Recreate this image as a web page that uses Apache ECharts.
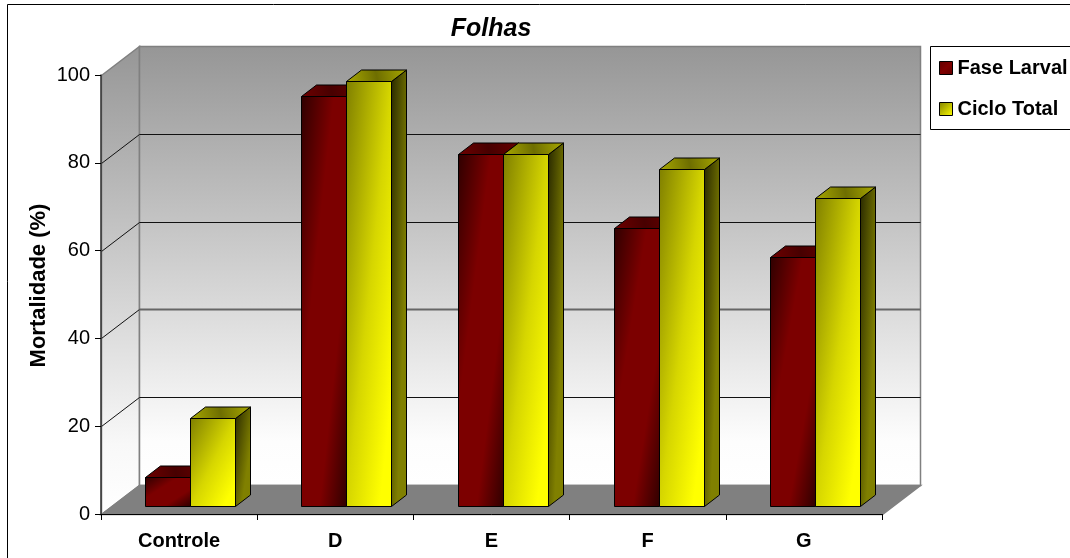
<!DOCTYPE html>
<html>
<head>
<meta charset="utf-8">
<style>html,body{margin:0;padding:0;background:#fff}#c{width:1070px;height:558px}</style>
<script src="https://cdn.jsdelivr.net/npm/echarts@6/dist/echarts.min.js"></script>
</head>
<body>
<div id="c"></div>
<script>
const categories = ['Controle', 'D', 'E', 'F', 'G'];
const faseLarval = [6.6, 93.3, 80, 63.3, 56.6];
const cicloTotal = [20, 96.6, 80, 76.6, 70];
const yTicks = [0, 20, 40, 60, 80, 100];

const FONT = '"Liberation Sans", Arial, sans-serif';
const G = echarts.graphic;
const WALL_DX = 38, WALL_DY = 29;     // floor depth
const BAR_DX = 11, BAR_DY = 8.5;      // bar position on the floor
const DEPTH_DX = 15, DEPTH_DY = 11.5; // bar depth
const BAR_FRAC = 0.288;

function diag(x, y, w, h, stops) {
  const k = 2 / (1 / (w * w) + 1 / (h * h));
  return new G.LinearGradient(x, y, x + k / w, y + k / h, stops, true);
}
const palettes = {
  red: {
    front: [[0, '#300000'], [0.36, '#7c0000'], [0.7, '#7c0000'], [1, '#300000']],
    top: [[0, '#6e0000'], [0.5, '#480000'], [1, '#660000']],
    side: [[0, '#200000'], [1, '#600000']]
  },
  yellow: {
    front: [[0, '#808000'], [0.5, '#d6d600'], [0.87, '#ffff00'], [1, '#ffff00']],
    top: [[0, '#a8a800'], [0.5, '#6e6e00'], [1, '#a8a800']],
    side: [[0, '#2a2a00'], [0.7, '#808000'], [1, '#808000']]
  }
};
const toStops = s => s.map(p => ({ offset: p[0], color: p[1] }));

function barRenderer(pal, dir) {
  return function (params, api) {
    const cat = api.value(0), val = api.value(1);
    const top = api.coord([cat, val]);
    const base = api.coord([cat, 0]);
    const w = Math.round(api.size([1, 0])[0] * BAR_FRAC);
    const cx = Math.round(top[0] + BAR_DX);
    const x0 = (dir < 0 ? cx - w : cx) + 0.5;
    const x1 = x0 + w;
    const yt = Math.round(top[1] - BAR_DY) + 0.5;
    const yb = Math.round(base[1] - BAR_DY) + 0.5;
    const h = Math.max(yb - yt, 1);
    const st = { stroke: '#000', lineWidth: 1, lineJoin: 'round' };
    const ddx = DEPTH_DX, ddy = DEPTH_DY;
    return {
      type: 'group',
      children: [
        { type: 'polygon',
          shape: { points: [[x1, yt], [x1 + ddx, yt - ddy], [x1 + ddx, yb - ddy], [x1, yb]] },
          style: Object.assign({ fill: diag(x1, yt - ddy, ddx, h + ddy, toStops(pal.side)) }, st) },
        { type: 'polygon',
          shape: { points: [[x0, yt], [x0 + ddx, yt - ddy], [x1 + ddx, yt - ddy], [x1, yt]] },
          style: Object.assign({ fill: new G.LinearGradient(x0, yt, x1 + ddx, yt - ddy, toStops(pal.top), true) }, st) },
        { type: 'rect',
          shape: { x: x0, y: yt, width: w, height: h },
          style: Object.assign({ fill: diag(x0, yt, w, h, toStops(pal.front)) }, st) }
      ]
    };
  };
}

function wallRenderer(params, api) {
  if (params.dataIndex !== 0) return null;
  const cs = params.coordSys;
  const l = cs.x, r = cs.x + cs.width;
  const yTop = Math.round(api.coord([0, yTicks[yTicks.length - 1]])[1]);
  const yBot = Math.round(api.coord([0, 0])[1]);
  const wallGrad = () => new G.LinearGradient(0, yTop - WALL_DY, 0, yBot - WALL_DY, [
    { offset: 0, color: '#969696' }, { offset: 0.9, color: '#fdfdfd' }, { offset: 1, color: '#ffffff' }
  ], true);
  const sideGrad = () => new G.LinearGradient(0, yTop - WALL_DY, 0, yBot, [
    { offset: 0, color: '#969696' }, { offset: 0.85, color: '#f8f8f8' }, { offset: 1, color: '#ffffff' }
  ], true);
  const bx0 = l + WALL_DX + 0.5, bx1 = r + WALL_DX + 0.5;
  const by0 = yTop - WALL_DY + 0.5, by1 = yBot - WALL_DY + 0.5;
  const fl = l + 0.5, fr = r + 0.5, fb = yBot + 0.5, ft = yTop + 0.5;
  const edge = { stroke: '#808080', lineWidth: 1.5 };
  const kids = [
    { type: 'polygon', shape: { points: [[fl, ft], [bx0, by0], [bx0, by1], [fl, fb]] },
      style: Object.assign({ fill: sideGrad() }, edge) },
    { type: 'polygon', shape: { points: [[bx0, by0], [bx1, by0], [bx1, by1], [bx0, by1]] },
      style: Object.assign({ fill: wallGrad() }, edge) },
    { type: 'polygon', shape: { points: [[fl, fb], [bx0, by1], [bx1, by1], [fr, fb]] },
      style: Object.assign({ fill: '#808080' }, edge) }
  ];
  yTicks.slice(1, -1).forEach(v => {
    const y = Math.round(api.coord([0, v])[1]) + 0.5;
    kids.push({ type: 'polyline',
      shape: { points: [[fl, y], [bx0, y - WALL_DY]] },
      style: { stroke: '#111', lineWidth: 1, fill: 'none' } });
    kids.push({ type: 'polyline',
      shape: { points: [[bx0, y - WALL_DY], [bx1, y - WALL_DY]] },
      style: v === 40 ? { stroke: '#666', lineWidth: 2, fill: 'none' }
                      : { stroke: '#111', lineWidth: 1, fill: 'none' } });
  });
  return { type: 'group', children: kids };
}

const chart = echarts.init(document.getElementById('c'), null, { renderer: 'canvas' });
const legendText = { fontFamily: FONT, fontWeight: 'bold', fontSize: 20, color: '#000' };
chart.setOption({
  animation: false,
  backgroundColor: '#fff',
  title: {
    text: 'Folhas', left: 486, top: 12, textAlign: 'center',
    textStyle: { fontFamily: FONT, fontWeight: 'bold', fontStyle: 'italic', fontSize: 25, color: '#000' }
  },
  legend: {
    orient: 'vertical', left: 939, top: 58, padding: 0, itemWidth: 13, itemHeight: 13, itemGap: 21,
    selectedMode: false, textStyle: legendText,
    data: [
      { name: 'Fase Larval', icon: 'rect',
        itemStyle: { color: new G.LinearGradient(0, 0, 1, 1, toStops([[0, '#600000'], [0.5, '#800000'], [1, '#600000']])), borderColor: '#000', borderWidth: 1 } },
      { name: 'Ciclo Total', icon: 'rect',
        itemStyle: { color: new G.LinearGradient(0, 0, 1, 1, toStops([[0, '#808000'], [1, '#ffff00']])), borderColor: '#000', borderWidth: 1 } }
    ]
  },
  grid: { left: 101, right: 188, top: 75, bottom: 44, containLabel: false },
  xAxis: {
    type: 'category', data: categories, z: 5, boundaryGap: true,
    axisLine: { show: true, lineStyle: { color: '#000', width: 1 } },
    axisTick: { show: true, alignWithLabel: false, length: 6, lineStyle: { color: '#000' } },
    axisLabel: { margin: 17, fontFamily: FONT, fontWeight: 'bold', fontSize: 20, color: '#000', interval: 0 }
  },
  yAxis: {
    type: 'value', min: 0, max: 100, interval: 20, z: 5,
    name: 'Mortalidade (%)', nameLocation: 'middle', nameGap: 51, nameRotate: 90, nameMoveOverlap: false,
    nameTextStyle: { fontFamily: FONT, fontWeight: 'bold', fontSize: 22, color: '#000', padding: [0, 0, 0, 18] },
    axisLine: { show: true, lineStyle: { color: '#333', width: 1.5 } },
    axisTick: { show: true, length: 6, lineStyle: { color: '#000' } },
    axisLabel: { margin: 11, fontFamily: FONT, fontSize: 20, color: '#000', padding: [2, 0, 0, 0] },
    splitLine: { show: false }
  },
  graphic: [
    { type: 'rect', z: -10, silent: true, shape: { x: 7.5, y: 4.5, width: 1200, height: 700 },
      style: { fill: '#fff', stroke: '#000', lineWidth: 1 } },
    { type: 'rect', z: -9, silent: true, shape: { x: 930.5, y: 46.5, width: 300, height: 83 },
      style: { fill: '#fff', stroke: '#000', lineWidth: 1 } }
  ],
  series: [
    { type: 'custom', name: 'wall', z: 1, silent: true, clip: false, renderItem: wallRenderer,
      encode: { x: 0, y: 1 }, data: categories.map((c, i) => [i, 0]) },
    { type: 'custom', name: 'Fase Larval', z: 2, clip: false, renderItem: barRenderer(palettes.red, -1),
      itemStyle: { color: '#800000' }, encode: { x: 0, y: 1 },
      data: faseLarval.map((v, i) => [i, v]) },
    { type: 'custom', name: 'Ciclo Total', z: 3, clip: false, renderItem: barRenderer(palettes.yellow, 1),
      itemStyle: { color: '#ffff00' }, encode: { x: 0, y: 1 },
      data: cicloTotal.map((v, i) => [i, v]) }
  ]
});
</script>
</body>
</html>
